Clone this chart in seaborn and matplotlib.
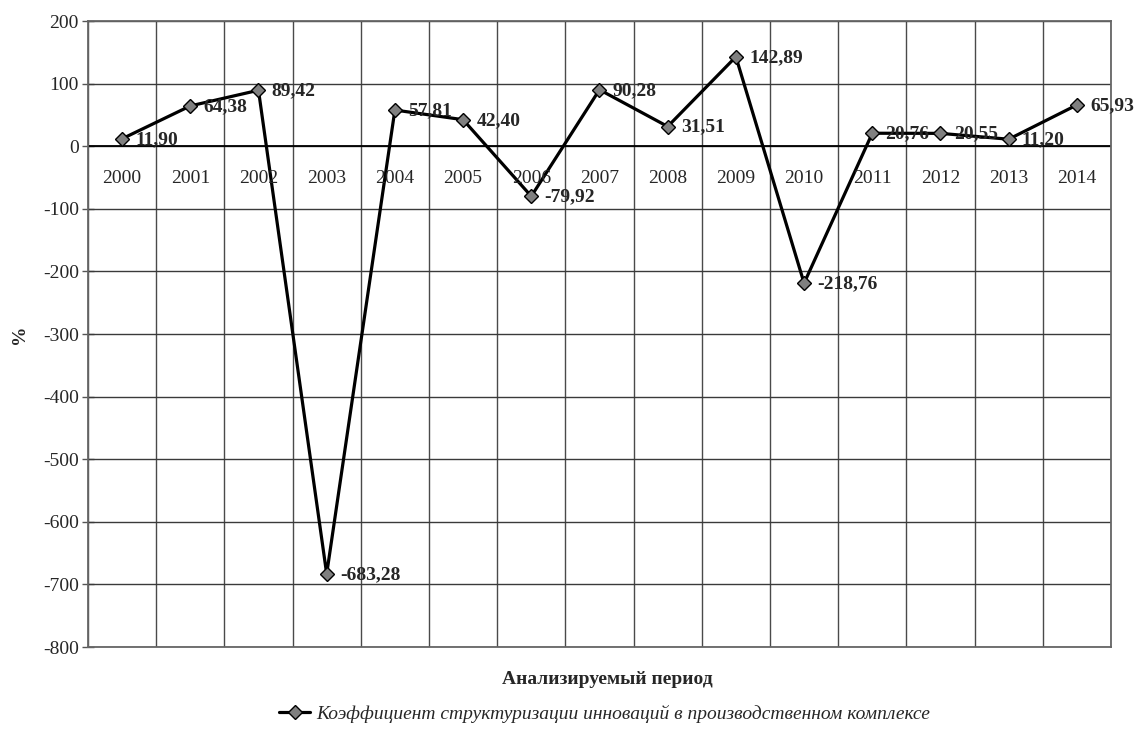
import matplotlib.pyplot as plt
import matplotlib.transforms as mtransforms
import pandas as pd
import seaborn as sns

# Данные графика
years = ['2000', '2001', '2002', '2003', '2004', '2005', '2006', '2007',
         '2008', '2009', '2010', '2011', '2012', '2013', '2014']
values = [11.90, 64.38, 89.42, -683.28, 57.81, 42.40, -79.92, 90.28,
          31.51, 142.89, -218.76, 20.76, 20.55, 11.20, 65.93]
series_name = 'Коэффициент структуризации инноваций в производственном комплексе'

df = pd.DataFrame({'pos': range(len(years)), 'year': years, 'value': values})

sns.set_style('white')
plt.rcParams['font.family'] = ['Liberation Serif', 'DejaVu Serif']

fig = plt.figure(figsize=(11.41, 7.38), dpi=100)
ax = fig.add_axes([0.0771, 0.1233, 0.8966, 0.8482])

sns.lineplot(data=df, x='pos', y='value', ax=ax, color='black', linewidth=2.3,
             marker='D', markersize=7.5, markerfacecolor='#808080',
             markeredgecolor='black', markeredgewidth=1.0, label=series_name,
             zorder=5)

ax.set_xlim(-0.5, len(years) - 0.5)
ax.set_ylim(-800, 200)
ax.set_yticks(range(-800, 201, 100))
ax.set_yticklabels([str(v) for v in range(-800, 201, 100)], fontsize=14)

# Сетка: вертикальные линии между категориями и горизонтальные по 100
for i in range(len(years) + 1):
    ax.axvline(i - 0.5, color='#4a4a4a', linewidth=1.0, zorder=1)
for v in range(-800, 201, 100):
    ax.axhline(v, color='#3a3a3a', linewidth=1.0, zorder=1)
ax.axhline(0, color='black', linewidth=1.3, zorder=2)

ax.set_xticks([])
ax.tick_params(axis='y', direction='inout', length=9, width=1, color='#555555', pad=2, left=True)
for s in ax.spines.values():
    s.set_color('#666666')
    s.set_linewidth(1.3)

# Подписи годов на линии нуля
trans = mtransforms.offset_copy(ax.transData, fig=fig, x=0, y=-32, units='dots')
for i, y in enumerate(years):
    ax.text(i, 0, y, transform=trans, ha='center', va='center', fontsize=14, zorder=6)

# Подписи значений
for i, v in enumerate(values):
    lbl = f'{v:.2f}'.replace('.', ',')
    ax.annotate(lbl, (i, v), xytext=(9.5, -0.5), textcoords='offset points',
                ha='left', va='center', fontsize=14, fontweight='bold', zorder=7)

ax.set_xlabel('')
ax.set_ylabel('%', fontsize=14, fontweight='bold', labelpad=11)
fig.text(0.532, 0.079, 'Анализируемый период', ha='center', va='center',
         fontsize=14, fontweight='bold')

ax.get_legend().remove()
handles, labels = ax.get_legend_handles_labels()
fig.legend(handles, labels, loc='center', bbox_to_anchor=(0.530, 0.033), frameon=False,
           prop={'style': 'italic', 'size': 14}, handlelength=1.6, handletextpad=0.3)

fig.savefig('out.png', dpi=100, facecolor='white')
